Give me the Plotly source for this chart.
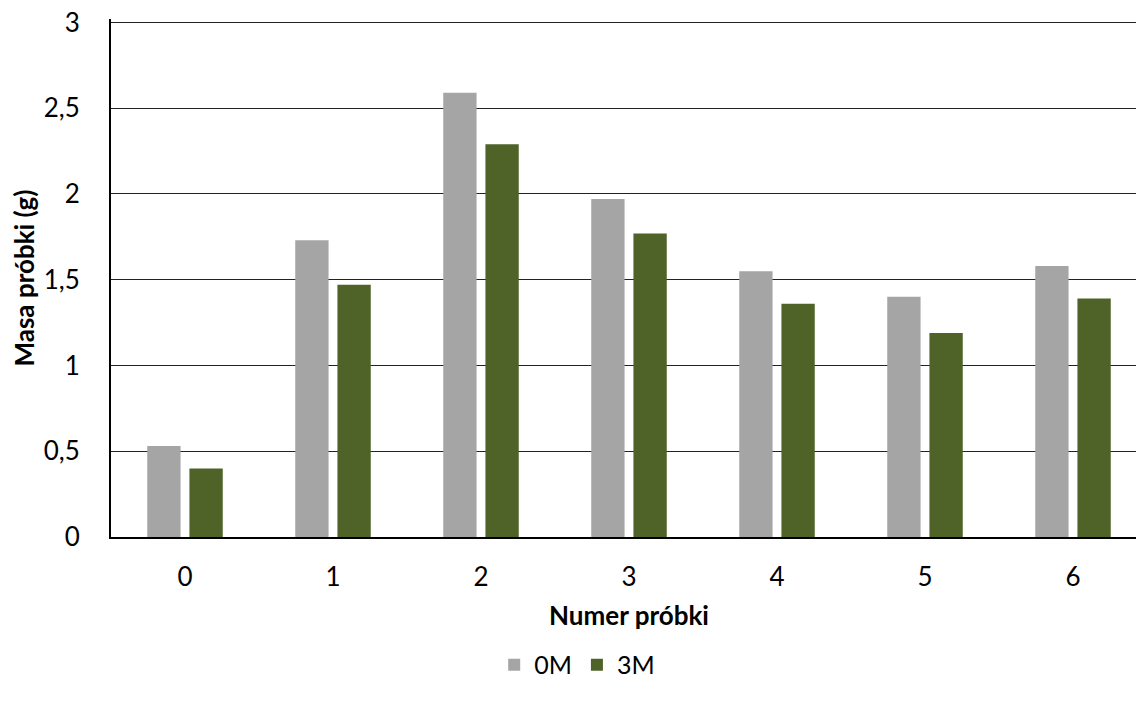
import plotly.graph_objects as go

categories = ["0", "1", "2", "3", "4", "5", "6"]
series_0m = [0.53, 1.73, 2.59, 1.97, 1.55, 1.40, 1.58]
series_3m = [0.40, 1.47, 2.29, 1.77, 1.36, 1.19, 1.39]
y_ticks = [0, 0.5, 1, 1.5, 2, 2.5, 3]
y_tick_labels = ["0", "0,5", "1", "1,5", "2", "2,5", "3"]

FONT = "Lato"

fig = go.Figure()
fig.add_trace(go.Bar(name="0M", x=categories, y=series_0m,
                     marker=dict(color="#A5A5A5", line=dict(width=0))))
fig.add_trace(go.Bar(name="3M", x=categories, y=series_3m,
                     marker=dict(color="#4F6228", line=dict(width=0))))

fig.update_layout(
    width=1144, height=706,
    margin=dict(l=103, r=5, t=11, b=177, autoexpand=False),
    paper_bgcolor="white", plot_bgcolor="white",
    barmode="group", bargap=0.43, bargroupgap=0.21,
    font=dict(family=FONT, size=26, color="black"),
    showlegend=True,
    legend=dict(orientation="h", x=0.45, xanchor="center", y=-0.247, yanchor="middle",
                font=dict(size=25, family=FONT), itemwidth=30, traceorder="normal"),
    xaxis=dict(
        type="category", range=[-0.5, 6.5],
        showline=True, linecolor="black", linewidth=2,
        ticks="", showgrid=False, zeroline=False, ticklabelstandoff=16,
        tickfont=dict(size=26, family=FONT),
        title=dict(text="<b>Numer próbki</b>", font=dict(size=26, family=FONT), standoff=16),
    ),
    yaxis=dict(
        range=[0, 3.02], tickvals=y_ticks, ticktext=y_tick_labels,
        showline=True, linecolor="black", linewidth=2,
        showgrid=True, gridcolor="#222222", gridwidth=1,
        zeroline=False, ticks="", ticklabelstandoff=24, ticklabeloverflow="allow",
        tickfont=dict(size=26, family=FONT),
        title=dict(text="<b>Masa próbki (g)</b>", font=dict(size=26, family=FONT), standoff=14),
    ),
)

fig.write_html("out.html")
